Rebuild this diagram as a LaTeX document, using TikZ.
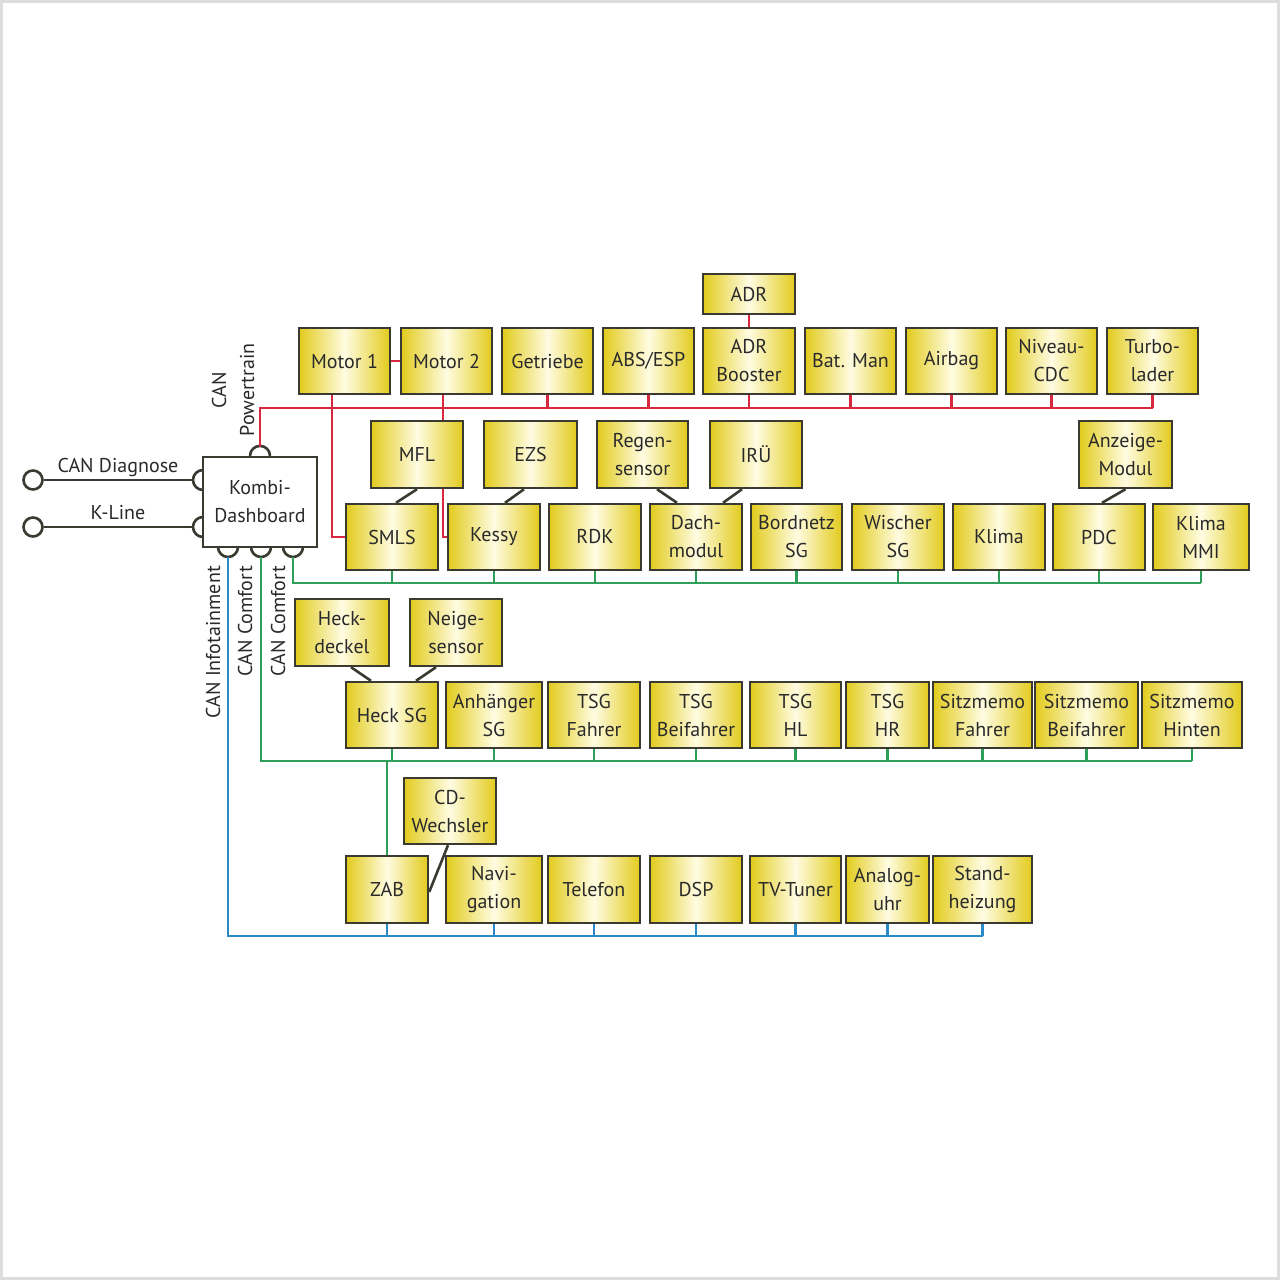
\documentclass[tikz,border=0pt]{standalone}
\usepackage{fontspec}
\setmainfont{PT Sans}
\usetikzlibrary{calc}
\definecolor{ecuY}{HTML}{E2CB1C}
\definecolor{ecuL}{HTML}{FFFCE2}
\definecolor{ecuB}{HTML}{3A3A30}
\definecolor{txt}{HTML}{2A2A2A}
\definecolor{busR}{HTML}{D8283F}
\definecolor{busG}{HTML}{2E9E58}
\definecolor{busB}{HTML}{2B8AC6}
\definecolor{frameG}{HTML}{DDDDDD}
\tikzset{
  ecu/.style={draw=ecuB, line width=2.4pt, left color=ecuY, right color=ecuY, middle color=ecuL,
    inner sep=0pt, align=center, text=txt, font=\fontsize{20}{28}\selectfont},
  kombibox/.style={draw=ecuB, line width=2.2pt, fill=white, inner sep=0pt, align=center, text=txt,
    font=\fontsize{20}{28}\selectfont},
  lbl/.style={text=txt, font=\fontsize{20}{28}\selectfont, inner sep=0pt, align=center},
  redl/.style={draw=busR, line width=2.4pt},
  grnl/.style={draw=busG, line width=2.4pt},
  blul/.style={draw=busB, line width=2.4pt},
  blk/.style={draw=ecuB, line width=2.6pt},
  plug/.style={circle, draw=ecuB, line width=2.6pt, minimum size=19pt, inner sep=0pt, fill=white},
}
\newcommand{\bx}[6]{\node[ecu, minimum width={(#4-#2)*1pt}, minimum height={(#5-#3)*1pt}] (#1) at ({(#2+#4)/2},{(#3+#5)/2+1}) {#6};}
\begin{document}
\begin{tikzpicture}[x=1pt,y=-1pt]
\useasboundingbox (0,0) rectangle (1280,1280);
\fill[white] (0,0) rectangle (1280,1280);
\draw[frameG, line width=3pt] (1.5,1.5) rectangle (1278.5,1278.5);

% bus reference coordinates
\coordinate (rbus) at (0,408);
\coordinate (gbus1) at (0,583);
\coordinate (gbus2) at (0,761);
\coordinate (bbus) at (0,936);

% Kombi
\node[kombibox, minimum width=114pt, minimum height=90pt] (kombi) at (260,502) {Kombi-\\Dashboard};
\coordinate (ktop) at (260,447);
\coordinate (kc1) at (228,557);
\coordinate (kc2) at (261,557);
\coordinate (kc3) at (293,557);
\coordinate (kl1) at (193,480);
\coordinate (kl2) at (193,527);

% boxes row 1
\bx{motor1}{299}{327}{390}{393}{Motor 1}
\bx{motor2}{401}{327}{492}{393}{Motor 2}
\bx{getriebe}{502}{327}{593}{393}{Getriebe}
\bx{abs}{603}{327}{694}{393}{ABS/ESP}
\bx{adrb}{703}{327}{795}{393}{ADR\\Booster}
\bx{bat}{805}{327}{896}{393}{Bat. Man}
\bx{airbag}{906}{327}{997}{393}{Airbag}
\bx{niveau}{1006}{327}{1097}{393}{Niveau-\\CDC}
\bx{turbo}{1107}{327}{1198}{393}{Turbo-\\lader}
\bx{adr}{703}{273}{795}{313}{ADR}
% row 2
\bx{mfl}{371}{420}{463}{487}{MFL}
\bx{ezs}{484}{420}{577}{487}{EZS}
\bx{regen}{597}{420}{688}{487}{Regen-\\sensor}
\bx{iru}{710}{420}{802}{487}{IRÜ}
\bx{anzeige}{1079}{420}{1172}{487}{Anzeige-\\Modul}
% row 3
\bx{smls}{346}{503}{438}{569}{SMLS}
\bx{kessy}{448}{503}{540}{569}{Kessy}
\bx{rdk}{549}{503}{641}{569}{RDK}
\bx{dach}{650}{503}{742}{569}{Dach-\\modul}
\bx{bordnetz}{751}{503}{842}{569}{Bordnetz\\SG}
\bx{wischer}{852}{503}{944}{569}{Wischer\\SG}
\bx{klima}{953}{503}{1045}{569}{Klima}
\bx{pdc}{1053}{503}{1145}{569}{PDC}
\bx{klimammi}{1153}{503}{1249}{569}{Klima\\MMI}
% row 4
\bx{heckd}{295}{598}{389}{665}{Heck-\\deckel}
\bx{neige}{410}{598}{502}{665}{Neige-\\sensor}
\bx{hecksg}{346}{681}{438}{747}{Heck SG}
\bx{anh}{446}{681}{542}{747}{Anhänger\\SG}
\bx{tsgf}{548}{681}{640}{747}{TSG\\Fahrer}
\bx{tsgb}{650}{681}{742}{747}{TSG\\Beifahrer}
\bx{tsghl}{750}{681}{841}{747}{TSG\\HL}
\bx{tsghr}{846}{681}{929}{747}{TSG\\HR}
\bx{smf}{933}{681}{1032}{747}{Sitzmemo\\Fahrer}
\bx{smb}{1035}{681}{1138}{747}{Sitzmemo\\Beifahrer}
\bx{smh}{1142}{681}{1242}{747}{Sitzmemo\\Hinten}
% row 5
\bx{cd}{404}{777}{496}{843}{CD-\\Wechsler}
\bx{zab}{346}{855}{428}{922}{ZAB}
\bx{navi}{446}{855}{542}{922}{Navi-\\gation}
\bx{tel}{548}{855}{640}{922}{Telefon}
\bx{dsp}{650}{855}{742}{922}{DSP}
\bx{tv}{750}{855}{841}{922}{TV-Tuner}
\bx{analog}{846}{855}{929}{922}{Analog-\\uhr}
\bx{stand}{933}{855}{1032}{922}{Stand-\\heizung}

% ---- Kombi connectors (half circles)
\draw[blk] ([xshift=-10pt]kombi.north) arc[start angle=180, end angle=0, radius=10pt];
\foreach \cx in {228,261,293}{
  \draw[blk] (\cx-10,547) arc[start angle=180, end angle=360, radius=10pt];
}
\draw[blk] (203,470) arc[start angle=90, end angle=270, radius=10pt];
\draw[blk] (203,517) arc[start angle=90, end angle=270, radius=10pt];

% ---- left plugs
\node[plug] (pdiag) at (33,480) {};
\node[plug] (pkl) at (33,527) {};
\draw[blk] (pdiag) -- (kl1);
\draw[blk] (pkl) -- (kl2);
\node[lbl] (ldiag) at (118,467) {CAN Diagnose};
\node[lbl] (lkl) at (118,513) {K-Line};

% ---- vertical labels
\node[lbl, rotate=90] (lpt) at (233,390) {CAN\\Powertrain};
\node[lbl, rotate=90, anchor=east] (linfo) at (213,566) {CAN Infotainment};
\node[lbl, rotate=90, anchor=east] (lcom1) at (245,566) {CAN Comfort};
\node[lbl, rotate=90, anchor=east] (lcom2) at (278,566) {CAN Comfort};

% ---- red powertrain bus
\draw[redl] (ktop) -- (ktop |- rbus) -- (turbo.south |- rbus);
\foreach \n in {getriebe,abs,adrb,bat,airbag,niveau,turbo}{
  \draw[redl] (\n.south) -- (\n.south |- rbus);
}
\draw[redl] (adr.south) -- (adrb.north);
\draw[redl] (motor1.east) -- (motor2.west);
\coordinate (m1x) at ([xshift=-12.5pt]motor1.south);
\draw[redl] (m1x) |- (smls.west);
\coordinate (m2x) at ([xshift=-3.5pt]motor2.south);
\draw[redl] (m2x) -- (m2x |- mfl.north);
\draw[redl] (m2x |- mfl.south) |- (kessy.west);

% ---- green comfort bus 1
\draw[grnl] (kc3) |- (klimammi.south |- gbus1);
\foreach \n in {smls,kessy,rdk,dach,bordnetz,wischer,klima,pdc,klimammi}{
  \draw[grnl] (\n.south) -- (\n.south |- gbus1);
}
% ---- green comfort bus 2
\draw[grnl] (kc2) |- (smh.south |- gbus2);
\foreach \n in {hecksg,anh,tsgf,tsgb,tsghl,tsghr,smf,smb,smh}{
  \draw[grnl] (\n.south) -- (\n.south |- gbus2);
}
\draw[grnl] (zab.north) -- (zab.north |- gbus2);
% ---- blue infotainment bus
\draw[blul] (kc1) |- (stand.south |- bbus);
\foreach \n in {zab,navi,tel,dsp,tv,analog,stand}{
  \draw[blul] (\n.south) -- (\n.south |- bbus);
}

% ---- black sub-links
\draw[blk] (mfl.south) -- ([xshift=4pt]smls.north);
\draw[blk] ([xshift=-6.5pt]ezs.south) -- ([xshift=11pt]kessy.north);
\draw[blk] ([xshift=14.5pt]regen.south) -- ([xshift=-19pt]dach.north);
\draw[blk] ([xshift=-14pt]iru.south) -- ([xshift=27pt]dach.north);
\draw[blk] (anzeige.south) -- ([xshift=3pt]pdc.north);
\draw[blk] ([xshift=9pt]heckd.south) -- ([xshift=-21pt]hecksg.north);
\draw[blk] ([xshift=-20pt]neige.south) -- ([xshift=24pt]hecksg.north);
\draw[blk] ([xshift=-2pt]cd.south) -- ([yshift=-2.5pt]zab.east);
\end{tikzpicture}
\end{document}
